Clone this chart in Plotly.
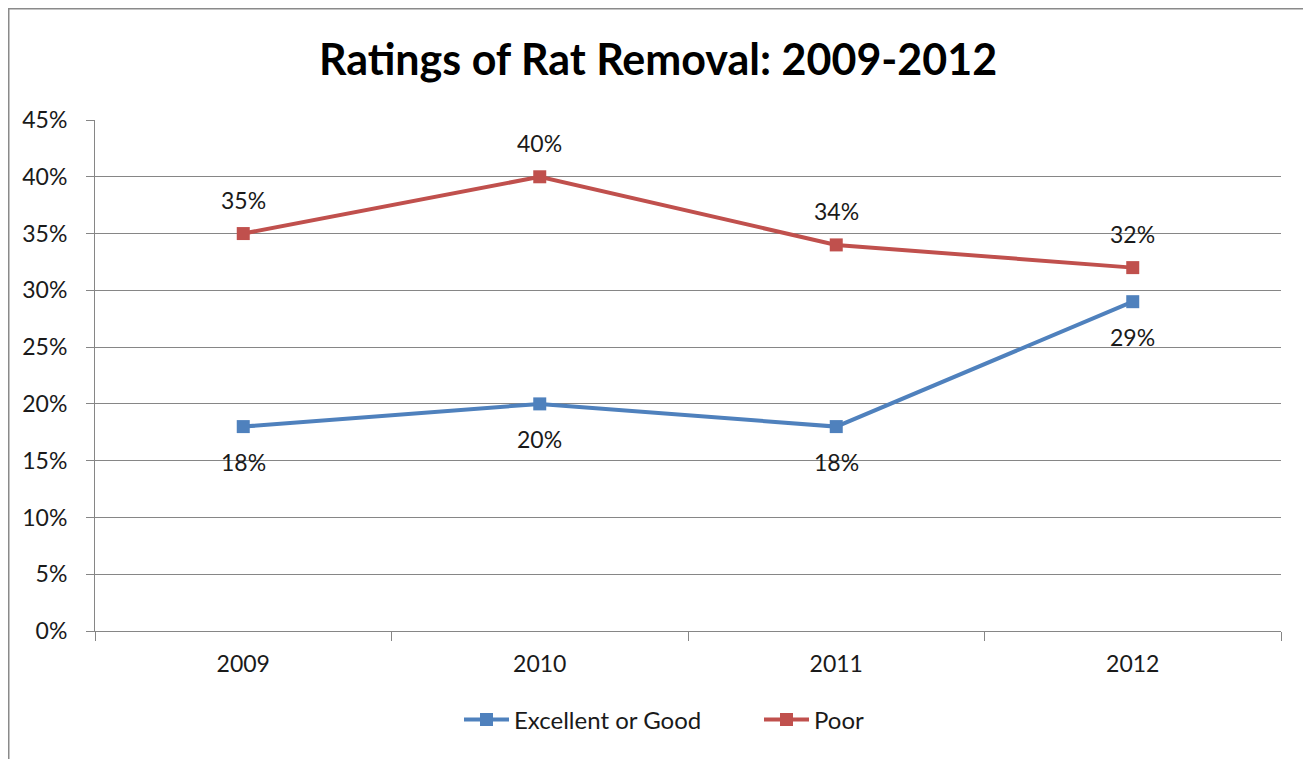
import plotly.graph_objects as go

years = ["2009", "2010", "2011", "2012"]
excellent_good = [0.18, 0.20, 0.18, 0.29]
poor = [0.35, 0.40, 0.34, 0.32]
y_ticks = [0, 0.05, 0.10, 0.15, 0.20, 0.25, 0.30, 0.35, 0.40, 0.45]

OFF = 8  # page body margin
W, H = 1311 - OFF, 759 - OFF
L, R, T = 95 - OFF, 30, 120 - OFF
B = H - T - 511
FONT = "Lato"
BLUE = "#4F81BD"
RED = "#C0504D"
GRID = "#868686"
TXT = "#1a1a1a"

fig = go.Figure()
fig.add_trace(go.Scatter(
    x=years, y=excellent_good, name="Excellent or Good", mode="lines+markers",
    line=dict(color=BLUE, width=4), marker=dict(symbol="square", size=13, color=BLUE)))
fig.add_trace(go.Scatter(
    x=years, y=poor, name="Poor", mode="lines+markers",
    line=dict(color=RED, width=4), marker=dict(symbol="square", size=13, color=RED)))

for i, v in enumerate(excellent_good):
    fig.add_annotation(x=i, y=v, xref="x", yref="y", text=f"{round(v*100)}%", showarrow=False,
                       yshift=-35, font=dict(size=23, color=TXT, family=FONT))
for i, v in enumerate(poor):
    fig.add_annotation(x=i, y=v, xref="x", yref="y", text=f"{round(v*100)}%", showarrow=False,
                       yshift=34, font=dict(size=23, color=TXT, family=FONT))

pw, ph = W - L - R, H - T - B
# chart frame (page coords: left 7, top 8, right 1308, bottom off-page)
fx0, fy0, fx1, fy1 = 0.5, 0.5, 1308 - OFF, H + 20
fig.add_shape(type="rect", xref="paper", yref="paper",
              x0=(fx0 - L) / pw, x1=(fx1 - L) / pw,
              y0=(H - B - fy1) / ph, y1=(H - B - fy0) / ph,
              line=dict(color="#8a8a8a", width=2), layer="below")

fig.update_layout(
    width=W, height=H,
    margin=dict(l=L, r=R, t=T, b=B),
    paper_bgcolor="white", plot_bgcolor="white",
    title=dict(text="<b>Ratings of Rat Removal: 2009-2012</b>", x=(658 - OFF) / W, xanchor="center",
               y=1 - (60 - OFF) / H, yanchor="middle",
               font=dict(size=43, color="#000", family=FONT)),
    font=dict(family=FONT, size=23, color=TXT),
    showlegend=True,
    legend=dict(orientation="h", x=(759 - L - OFF) / pw, xanchor="center",
                y=-(720 - OFF - (H - B)) / ph,
                yanchor="middle", font=dict(size=24, color=TXT, family=FONT),
                itemwidth=45, entrywidth=240,
                bgcolor="rgba(0,0,0,0)"),
    xaxis=dict(type="category", range=[-0.5, 3.5], tickson="boundaries",
               showgrid=False, showline=True, linecolor=GRID, linewidth=1,
               ticks="outside", ticklen=9, tickcolor=GRID, tickwidth=1,
               ticklabelstandoff=12,
               tickfont=dict(size=23, color=TXT, family=FONT), fixedrange=True),
    yaxis=dict(range=[0, 0.45], tickvals=y_ticks, tickformat=".0%",
               showgrid=True, gridcolor=GRID, gridwidth=1,
               showline=True, linecolor=GRID, linewidth=1,
               ticks="outside", ticklen=8, tickcolor=GRID, tickwidth=1,
               ticklabelstandoff=14,
               tickfont=dict(size=23, color=TXT, family=FONT),
               zeroline=False, fixedrange=True),
)

fig.write_html("out.html")
